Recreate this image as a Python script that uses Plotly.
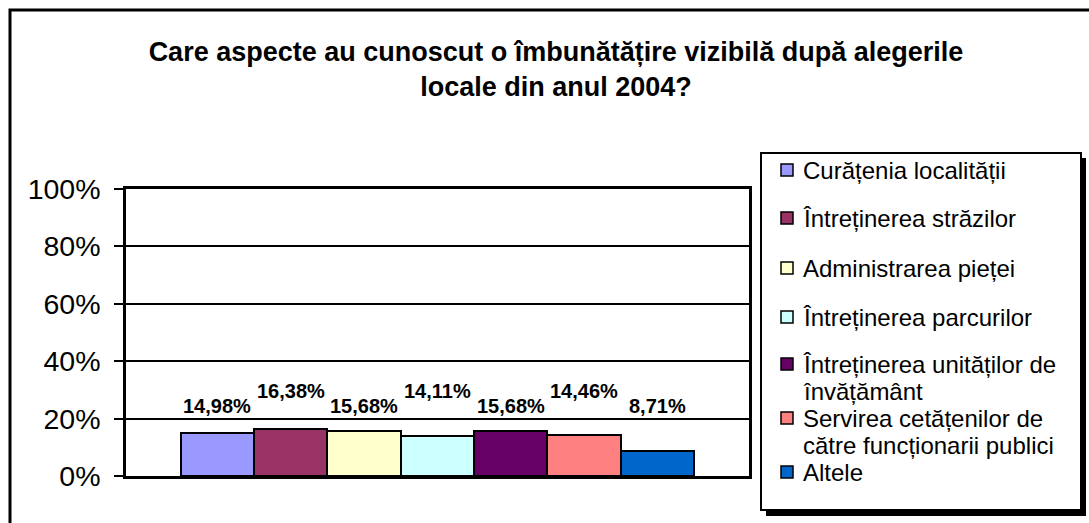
import plotly.graph_objects as go

# ---- data ----
series = [
    "Curățenia localității",
    "Întreținerea străzilor",
    "Administrarea pieței",
    "Întreținerea parcurilor",
    "Întreținerea unităților de învățământ",
    "Servirea cetățenilor de către funcționarii publici",
    "Altele",
]
legend_labels = [
    "Curățenia localității",
    "Întreținerea străzilor",
    "Administrarea pieței",
    "Întreținerea parcurilor",
    "Întreținerea unităților de<br>învățământ",
    "Servirea cetățenilor de<br>către funcționarii publici",
    "Altele",
]
values = [14.98, 16.38, 15.68, 14.11, 15.68, 14.46, 8.71]
colors = ["#9999FF", "#993366", "#FFFFCC", "#CCFFFF", "#660066", "#FF8080", "#0066CC"]
y_ticks = [0, 20, 40, 60, 80, 100]
y_tick_text = ["0%", "20%", "40%", "60%", "80%", "100%"]
title_text = "Care aspecte au cunoscut o îmbunătățire vizibilă după alegerile<br>locale din anul 2004?"

# ---- layout geometry (pixels) ----
W, H = 1089, 523
L, R, T, B = 126, 749, 189, 476
FONT = "Arial, Liberation Sans, sans-serif"


def px(x):
    return (x - L) / (R - L)


def py(y):
    return (B - y) / (B - T)


fig = go.Figure()
for name, v, c in zip(series, values, colors):
    fig.add_trace(go.Bar(
        x=[name], y=[v], name=name,
        marker=dict(color=c, line=dict(color="black", width=2)),
        showlegend=False, width=1,
    ))

shapes = []
annotations = []

# outer chart frame
shapes.append(dict(type="rect", xref="paper", yref="paper",
                   x0=px(10), x1=px(1110), y0=py(10), y1=py(540),
                   line=dict(color="black", width=3), fillcolor="rgba(0,0,0,0)", layer="below"))

# data labels (two staggered rows like the original)
label_rows = [24.4, 29.6]
for i, (name, v) in enumerate(zip(series, values)):
    txt = f"{v:.2f}".replace(".", ",") + "%"
    annotations.append(dict(x=name, y=label_rows[i % 2], xref="x", yref="y",
                            text=f"<b>{txt}</b>", showarrow=False,
                            font=dict(family=FONT, size=20, color="black"),
                            xanchor="center", yanchor="middle"))

# legend (drawn manually to mimic the original box with shadow)
shapes.append(dict(type="rect", xref="paper", yref="paper",
                   x0=px(766), x1=px(1086), y0=py(158), y1=py(516),
                   line=dict(width=0), fillcolor="black"))
shapes.append(dict(type="rect", xref="paper", yref="paper",
                   x0=px(761), x1=px(1081), y0=py(153), y1=py(510),
                   line=dict(color="black", width=2), fillcolor="white"))
item_y = [170, 218, 268, 317, 364, 418, 472]
line_step = 27
for lab, c, yc in zip(legend_labels, colors, item_y):
    shapes.append(dict(type="rect", xref="paper", yref="paper",
                       x0=px(781), x1=px(793), y0=py(yc - 6), y1=py(yc + 6),
                       line=dict(color="black", width=1.5), fillcolor=c))
    for k, line in enumerate(lab.split("<br>")):
        annotations.append(dict(x=px(801), y=py(yc + k * line_step), xref="paper", yref="paper",
                                text=line, showarrow=False, xanchor="left", yanchor="middle",
                                font=dict(family=FONT, size=24, color="black")))

fig.update_layout(
    width=W, height=H,
    margin=dict(l=L, r=W - R, t=T, b=H - B, pad=0),
    paper_bgcolor="white", plot_bgcolor="white",
    barmode="overlay", bargap=0,
    title=dict(text=f"<b>{title_text}</b>", x=556 / W, xanchor="center", xref="container",
               y=1 - 61 / H, yanchor="middle", yref="container",
               font=dict(family=FONT, size=27, color="black")),
    font=dict(family=FONT, color="black"),
    xaxis=dict(range=[-1.245, 7.25], showticklabels=False, ticks="", showgrid=False,
               showline=True, linecolor="black", linewidth=2.5, mirror=True, zeroline=False),
    yaxis=dict(range=[0, 100], tickvals=y_ticks, ticktext=y_tick_text,
               ticks="outside", ticklen=9, tickwidth=2, tickcolor="black",
               ticklabelstandoff=8,
               tickfont=dict(family=FONT, size=28.5, color="black"),
               showgrid=True, gridcolor="black", gridwidth=2,
               showline=True, linecolor="black", linewidth=2.5, mirror=True, zeroline=False),
    shapes=shapes, annotations=annotations,
)

fig.write_html("out.html", config={"displayModeBar": False},
               post_script="document.body.style.margin='0';")
